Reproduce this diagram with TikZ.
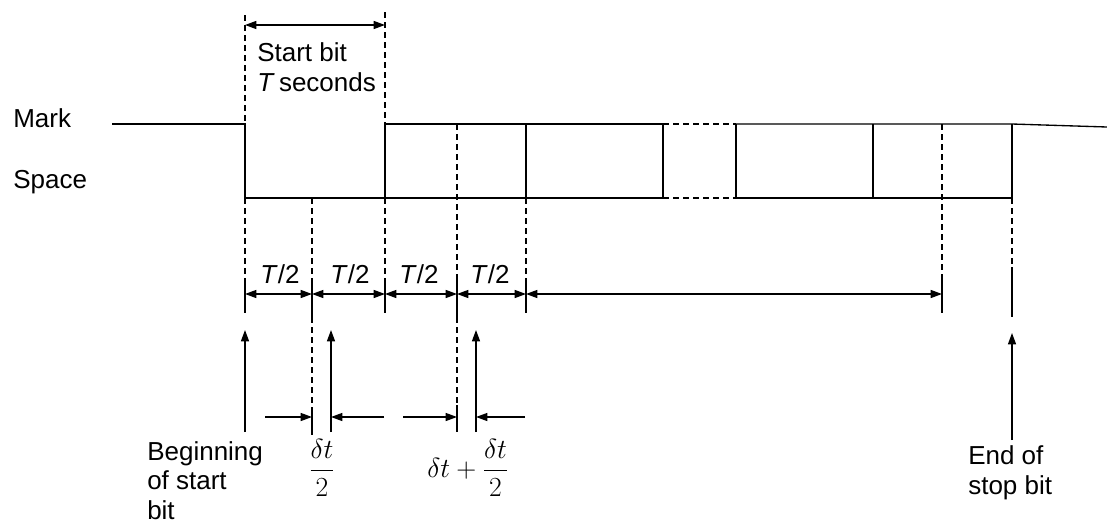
\documentclass[tikz,border=0pt]{standalone}
\usepackage{amsmath}
\usepackage{fontspec}
\setmainfont{Liberation Sans}
\usetikzlibrary{arrows.meta}

\begin{document}
\begin{tikzpicture}[
    x=0.75pt, y=-0.75pt,
    wave/.style={line width=1pt},
    guide/.style={line width=0.9pt, dash pattern=on 4.5pt off 3pt},
    tick/.style={line width=0.9pt},
    dim/.style={{Triangle[length=8.5pt,width=6pt]}-{Triangle[length=8.5pt,width=6pt]}, line width=1pt},
    ptr/.style={-{Triangle[length=8.5pt,width=6pt]}, line width=1pt},
    lbl/.style={font=\fontsize{19.5}{22}\selectfont, inner sep=0pt, align=left},
]
\useasboundingbox (0,0) rectangle (1107,526);

% bit boundaries on the T/2 row
\coordinate (b0) at (245,294);
\coordinate (b1) at (312,294);
\coordinate (b2) at (385,294);
\coordinate (b3) at (457,294);
\coordinate (b4) at (526,294);
\coordinate (b5) at (942,294);

% level names
\node[lbl, anchor=base west] (mark) at (13,127) {Mark};
\node[lbl, anchor=base west] (space) at (13,188) {Space};

% waveform
\draw[wave] (112,124) -- (245,124) -- (245,198) -- (385,198) -- (385,124) -- (663,124);
\draw[wave] (385,198) -- (663,198);
\draw[wave] (526,124) -- (526,198);
\draw[wave] (663,124) -- (663,198);
\draw[guide] (663,124) -- (736,124);
\draw[guide] (663,198) -- (736,198);
\draw[wave] (736,124) -- (1012,124) -- (1107,127);
\draw[wave] (736,198) -- (1012,198);
\foreach \x in {736,873,1012}
    \draw[wave] (\x,124) -- (\x,198);

% start bit width
\draw[guide] (245,15) -- (245,124);
\draw[guide] (385,12) -- (385,124);
\coordinate (s0) at (245,25);
\coordinate (s1) at (385,25);
\draw[dim] (s0) -- (s1);
\node[lbl, anchor=base west] (startbit) at (257,91) {Start bit\\\textit{T}\,seconds};

% guides down to the T/2 row
\draw[guide] (245,198) -- (245,278);
\draw[guide] (312,198) -- (312,278);
\draw[guide] (385,198) -- (385,278);
\draw[guide] (457,124) -- (457,278);
\draw[guide] (526,198) -- (526,278);
\draw[guide] (942,124) -- (942,278);
\draw[guide] (1012,198) -- (1012,267);
\draw[tick] (1012,267) -- (1012,317);
\foreach \x in {245,385,526,942}
    \draw[tick] (\x,278) -- (\x,313);
\foreach \x in {312,457}
    \draw[tick] (\x,278) -- (\x,317);

% half-bit intervals
\foreach \a/\b in {b0/b1,b1/b2,b2/b3,b3/b4}
    \draw[dim] (\a) -- (\b);
\draw[dim] (b4) -- (b5);
\foreach \x [count=\i] in {280,350,419,490}
    \node[lbl, anchor=base] (half\i) at (\x,283) {\textit{T}/2};

% sampling offsets
\draw[guide] (312,317) -- (312,410);
\draw[guide] (457,317) -- (457,405);
\draw[tick] (312,410) -- (312,435);
\draw[tick] (457,405) -- (457,432);
\coordinate (q0) at (312,417);
\coordinate (q1) at (331,417);
\coordinate (q2) at (457,417);
\coordinate (q3) at (476,417);
\draw[ptr] (265,417) -- (q0);
\draw[ptr] (384,417) -- (q1);
\draw[ptr] (403,417) -- (q2);
\draw[ptr] (525,417) -- (q3);

% sampling instants
\draw[ptr] (245,432) -- (245,330);
\draw[ptr] (331,432) -- (331,330);
\draw[ptr] (476,432) -- (476,330);
\draw[ptr] (1012,440) -- (1012,333);

% bottom labels
\node[lbl, anchor=base west] (begin) at (147,519) {Beginning\\of start\\bit};
\node[lbl] (dhalf) at (322,468) {$\dfrac{\delta t}{2}$};
\node[lbl] (dfull) at (468,468) {$\delta t+\dfrac{\delta t}{2}$};
\node[lbl, anchor=base west] (endstop) at (968,494) {End of\\stop bit};

\end{tikzpicture}
\end{document}
